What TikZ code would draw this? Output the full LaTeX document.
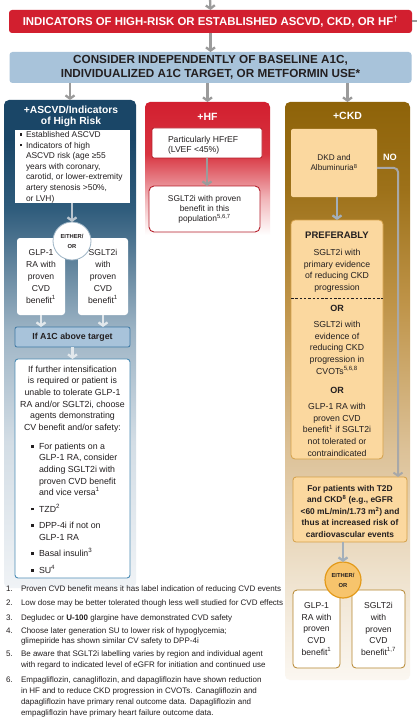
\documentclass[tikz,border=0pt]{standalone}
\usepackage{fontspec}
\setmainfont{Liberation Sans}
\usetikzlibrary{arrows.meta}
\definecolor{hired}{HTML}{D21F2F}
\definecolor{bluefill}{HTML}{A8C3DA}
\definecolor{arrgray}{HTML}{9B9B9B}
\definecolor{ascA}{HTML}{1A4667}
\definecolor{ascB}{HTML}{2E5B7B}
\definecolor{ascC}{HTML}{9CB3C4}
\definecolor{ascD}{HTML}{D3DDE5}
\definecolor{ascE}{HTML}{F0F3F6}
\definecolor{hfA}{HTML}{D21F2F}
\definecolor{hfB}{HTML}{D83440}
\definecolor{hfC}{HTML}{F1B5B9}
\definecolor{ckdA}{HTML}{8E6309}
\definecolor{ckdB}{HTML}{9D7119}
\definecolor{ckdC}{HTML}{BF9449}
\definecolor{ckdD}{HTML}{DCC197}
\definecolor{ckdE}{HTML}{F1E6D4}
\definecolor{ckdF}{HTML}{FBF7F1}
\definecolor{peach}{HTML}{FBD89F}
\definecolor{peachline}{HTML}{D4A049}
\definecolor{goldline}{HTML}{B5852D}
\definecolor{hfline}{HTML}{B51F2B}
\definecolor{a1cline}{HTML}{3D78A3}
\definecolor{intline}{HTML}{4D8DB5}
\definecolor{eoring}{HTML}{E39A1A}
\definecolor{eofill}{HTML}{F7C46C}
\definecolor{ltarr}{HTML}{B9C5CF}
\definecolor{wharr}{HTML}{E2E8EC}
\definecolor{noline}{HTML}{A8A8A8}
\definecolor{ckdarr}{HTML}{A3AFBA}
\definecolor{txt}{HTML}{231F20}
\pgfdeclareverticalshading{ascsh}{100bp}{color(0bp)=(ascE); color(25bp)=(ascE); color(40bp)=(ascD); color(51.5bp)=(ascC); color(64bp)=(ascB); color(71bp)=(ascA); color(100bp)=(ascA)}
\pgfdeclareverticalshading{hfsh}{100bp}{color(0bp)=(white); color(30bp)=(white); color(42.5bp)=(hfC); color(57.5bp)=(hfB); color(75bp)=(hfA); color(100bp)=(hfA)}
\pgfdeclareverticalshading{ckdsh}{100bp}{color(0bp)=(ckdF); color(25bp)=(ckdF); color(32.5bp)=(ckdE); color(45bp)=(ckdD); color(57.5bp)=(ckdC); color(67.5bp)=(ckdB); color(75bp)=(ckdA); color(100bp)=(ckdA)}
\newcommand\fsz[2]{\fontsize{#1}{#2}\selectfont}
\newcommand\ctab[1]{\begin{tabular}[t]{@{}c@{}}#1\end{tabular}}
\newcommand\bsqA{\makebox[6pt][l]{\rule[1.6pt]{2.4pt}{2.4pt}}}
\newcommand\bsqB{\makebox[8pt][l]{\rule[1.8pt]{2.6pt}{2.6pt}}}
\begin{document}
\begin{tikzpicture}[x=1pt,y=-1pt,
  every node/.style={inner sep=0pt,outer sep=0pt,text=txt},
  arr/.style={draw=arrgray,line width=2.3pt,-{Straight Barb[length=3.2pt,width=9pt]}},
  ltarrow/.style={arr,draw=ltarr},
  wharrow/.style={arr,draw=wharr},
  ckdarrow/.style={arr,draw=ckdarr},
  hdr/.style={anchor=base,text=white,font=\fsz{10.5}{11.2}\bfseries},
  whitebox/.style={fill=white},
  fn/.style={anchor=base west,font=\fsz{8}{10.9}},
  col/.style={shade,rounded corners=5pt}
]
\useasboundingbox (0,0) rectangle (417,722);
\fill[white] (0,0) rectangle (417,722);

% ---- top ----
\coordinate (topin) at (210,-2);
\node[fill=hired,rounded corners=3pt,minimum width=403pt,minimum height=23pt,text=white,font=\fsz{11.4}{12}\bfseries] (banner) at (210.5,21.5) {INDICATORS OF HIGH-RISK OR ESTABLISHED ASCVD, CKD, OR HF\textsuperscript{†}};
\coordinate (bexit) at (418,21.5);
\draw[draw=arrgray,line width=2pt] (banner.east) -- (bexit);
\draw[arr] (topin) -- (banner.north);
\node[fill=bluefill,rounded corners=3pt,minimum width=402pt,minimum height=31pt,align=center,font=\fsz{11.7}{14.3}\bfseries] (consider) at (210.5,67.5) {CONSIDER INDEPENDENTLY OF BASELINE A1C,\\INDIVIDUALIZED A1C TARGET, OR METFORMIN USE*};
\draw[arr] (banner.south) -- (consider.north);

% ---- columns ----
\node[col,shading=ascsh,minimum width=132pt,minimum height=488pt] (asc) at (70,344) {};
\node[col,shading=hfsh,minimum width=125pt,minimum height=148pt] (hf) at (207.5,176) {};
\node[col,shading=ckdsh,minimum width=125pt,minimum height=578pt] (ckd) at (347.5,391) {};
\draw[arr] (consider.south -| asc.north) -- (asc.north);
\draw[arr] (consider.south -| hf.north) -- (hf.north);
\draw[arr] (consider.south -| ckd.north) -- (ckd.north);

% ---- left column ----
\node[hdr,font=\fsz{10.3}{11.2}\bfseries] (aschdr) at (71,113.8) {\ctab{+ASCVD/Indicators\\of High Risk}};
\node[whitebox,minimum width=115pt,minimum height=73pt] (risk) at (72.5,166.5) {};
\node[anchor=base west,font=\fsz{8.4}{10.6}] (risktxt) at (20,137.5) {\begin{tabular}[t]{@{}l@{}l@{}}\bsqA & Established ASCVD\\ \bsqA & Indicators of high\\ & ASCVD risk (age ≥55\\ & years with coronary,\\ & carotid, or lower-extremity\\ & artery stenosis >50\%,\\ & or LVH)\end{tabular}};
\node[whitebox,rounded corners=3pt,minimum width=48pt,minimum height=77pt,align=center,font=\fsz{8.6}{11.9}] (glpA) at (41,276.5) {GLP-1\\RA with\\proven\\CVD\\benefit\textsuperscript{1}};
\node[whitebox,rounded corners=3pt,minimum width=50pt,minimum height=77pt,align=center,font=\fsz{8.6}{11.9}] (sgltA) at (103,276.5) {SGLT2i\\with\\proven\\CVD\\benefit\textsuperscript{1}};
\node[circle,fill=white,draw=ascC,line width=0.8pt,minimum size=38pt,align=center,font=\fsz{5.8}{10}\bfseries] (eo1) at (72,241) {EITHER/\\OR};
\draw[ltarrow] (risk.south -| eo1.north) -- (eo1.north);
\node[fill=bluefill,draw=a1cline,line width=0.8pt,rounded corners=2pt,minimum width=115pt,minimum height=20pt,font=\fsz{8.8}{10}\bfseries] (a1c) at (72.5,337) {If A1C above target};
\draw[wharrow] (glpA.south) -- (glpA.south |- a1c.north);
\draw[wharrow] (sgltA.south) -- (sgltA.south |- a1c.north);
\node[whitebox,draw=intline,line width=0.9pt,rounded corners=3pt,minimum width=115pt,minimum height=219pt] (intens) at (72.5,468.5) {};
\draw[wharrow] (a1c.south) -- (intens.north);
\node[anchor=base,font=\fsz{8.8}{11.6}] (inttxt) at (72.5,372.3) {\ctab{If further intensification\\is required or patient is\\unable to tolerate GLP-1\\RA and/or SGLT2i, choose\\agents demonstrating\\CV benefit and/or safety:}};
\node[anchor=base west,font=\fsz{8.8}{11.6}] (intlist) at (31,449.3) {\begin{tabular}[t]{@{}l@{}l@{}}\bsqB & For patients on a\\ & GLP-1 RA, consider\\ & adding SGLT2i with\\ & proven CVD benefit\\ & and vice versa\textsuperscript{1}\\[4.9pt] \bsqB & TZD\textsuperscript{2}\\[4.9pt] \bsqB & DPP-4i if not on\\ & GLP-1 RA\\[4.9pt] \bsqB & Basal insulin\textsuperscript{3}\\[4.9pt] \bsqB & SU\textsuperscript{4}\end{tabular}};

% ---- middle column ----
\node[hdr] (hfhdr) at (207.5,120.8) {+HF};
\node[whitebox,draw=hfline,line width=0.8pt,rounded corners=2pt,minimum width=110pt,minimum height=30pt] (hfref) at (207,143) {};
\node[anchor=base west,font=\fsz{8.6}{10}] (hfreftxt) at (168,142.5) {\begin{tabular}[t]{@{}l@{}}Particularly HFrEF\\(LVEF <45\%)\end{tabular}};
\node[whitebox,draw=hfline,line width=0.9pt,rounded corners=5pt,minimum width=111pt,minimum height=46pt,align=center,font=\fsz{8.4}{10}] (sglthf) at (204.5,209) {SGLT2i with proven\\benefit in this\\population\textsuperscript{5,6,7}};
\draw[arr] (hfref.south) -- (hfref.south |- sglthf.north);

% ---- right column ----
\node[hdr] (ckdhdr) at (347.5,119.5) {+CKD};
\node[fill=peach,rounded corners=2pt,minimum width=86pt,minimum height=68pt,align=center,font=\fsz{8.2}{10}] (dkd) at (334,163) {DKD and\\Albuminuria\textsuperscript{8}};
\node[anchor=base,text=white,font=\fsz{9.2}{10}\bfseries] (no) at (390,160.5) {NO};
\node[fill=peach,draw=peachline,line width=0.8pt,rounded corners=4pt,minimum width=92pt,minimum height=239pt] (pref) at (337,339.5) {};
\draw[ckdarrow] (dkd.south -| pref.north) -- (pref.north);
\coordinate (dashy) at (0,298);
\draw[line width=0.6pt,draw=txt,dash pattern=on 2.5pt off 1.8pt] (pref.west |- dashy) -- (pref.east |- dashy);
\node[anchor=base,font=\fsz{9.5}{11}\bfseries] (prefhd) at (337,238.3) {PREFERABLY};
\node[anchor=base,font=\fsz{8.7}{11.7}] (pref1) at (337,255.5) {\ctab{SGLT2i with\\primary evidence\\of reducing CKD\\progression}};
\node[anchor=base,font=\fsz{9}{11}\bfseries] (or1) at (337,311) {OR};
\node[anchor=base,font=\fsz{8.7}{11.7}] (pref2) at (337,327.5) {\ctab{SGLT2i with\\evidence of\\reducing CKD\\progression in\\CVOTs\textsuperscript{5,6,8}}};
\node[anchor=base,font=\fsz{9}{11}\bfseries] (or2) at (337,393) {OR};
\node[anchor=base,font=\fsz{8.7}{11.7}] (pref3) at (337,409.5) {\ctab{GLP-1 RA with\\proven CVD\\benefit\textsuperscript{1} if SGLT2i\\not tolerated or\\contraindicated}};
\node[fill=peach,draw=peachline,line width=0.8pt,rounded corners=3pt,minimum width=114pt,minimum height=65pt] (t2d) at (350,509.5) {};
\node[anchor=base,font=\fsz{8.4}{11.5}\bfseries] (t2dtxt) at (350,491) {\ctab{For patients with T2D\\and CKD\textsuperscript{8} (e.g., eGFR\\<60 mL/min/1.73 m\textsuperscript{2}) and\\thus at increased risk of\\cardiovascular events}};
\draw[draw=noline,line width=2pt,rounded corners=4pt,-{Straight Barb[length=3.2pt,width=9pt]}] ([yshift=-5pt]dkd.east) -| ([xshift=48pt]t2d.north);
\node[whitebox,draw=goldline,line width=0.8pt,rounded corners=4pt,minimum width=47pt,minimum height=78pt,align=center,font=\fsz{8.6}{11.7}] (glpB) at (316.5,629) {GLP-1\\RA with\\proven\\CVD\\benefit\textsuperscript{1}};
\node[whitebox,draw=goldline,line width=0.8pt,rounded corners=4pt,minimum width=53pt,minimum height=78pt,align=center,font=\fsz{8.6}{11.7}] (sgltB) at (378.5,629) {SGLT2i\\with\\proven\\CVD\\benefit\textsuperscript{1,7}};
\node[circle,fill=eofill,draw=eoring,line width=1.2pt,minimum size=36pt,align=center,font=\fsz{5.8}{10}\bfseries] (eo2) at (343,580) {EITHER/\\OR};
\draw[ckdarrow] (t2d.south -| eo2.north) -- (eo2.north);

% ---- footnotes ----
\node[fn] (n1) at (6,591.5) {1.};
\node[fn] (f1) at (21,591.5) {Proven CVD benefit means it has label indication of reducing CVD events};
\node[fn] (n2) at (6,605) {2.};
\node[fn] (f2) at (21,605) {Low dose may be better tolerated though less well studied for CVD effects};
\node[fn] (n3) at (6,620) {3.};
\node[fn] (f3) at (21,620) {Degludec or \textbf{U-100} glargine have demonstrated CVD safety};
\node[fn] (n4) at (6,633) {4.};
\node[fn] (f4) at (21,633) {\begin{tabular}[t]{@{}l@{}}Choose later generation SU to lower risk of hypoglycemia;\\glimepiride has shown similar CV safety to DPP-4i\end{tabular}};
\node[fn] (n5) at (6,656.5) {5.};
\node[fn] (f5) at (21,656.5) {\begin{tabular}[t]{@{}l@{}}Be aware that SGLT2i labelling varies by region and individual agent\\with regard to indicated level of eGFR for initiation and continued use\end{tabular}};
\node[fn] (n6) at (6,682.5) {6.};
\node[fn] (f6) at (21,682.5) {\begin{tabular}[t]{@{}l@{}}Empagliflozin, canagliflozin, and dapagliflozin have shown reduction\\in HF and to reduce CKD progression in CVOTs. Canagliflozin and\\dapagliflozin have primary renal outcome data. Dapagliflozin and\\empagliflozin have primary heart failure outcome data.\end{tabular}};
\end{tikzpicture}
\end{document}
